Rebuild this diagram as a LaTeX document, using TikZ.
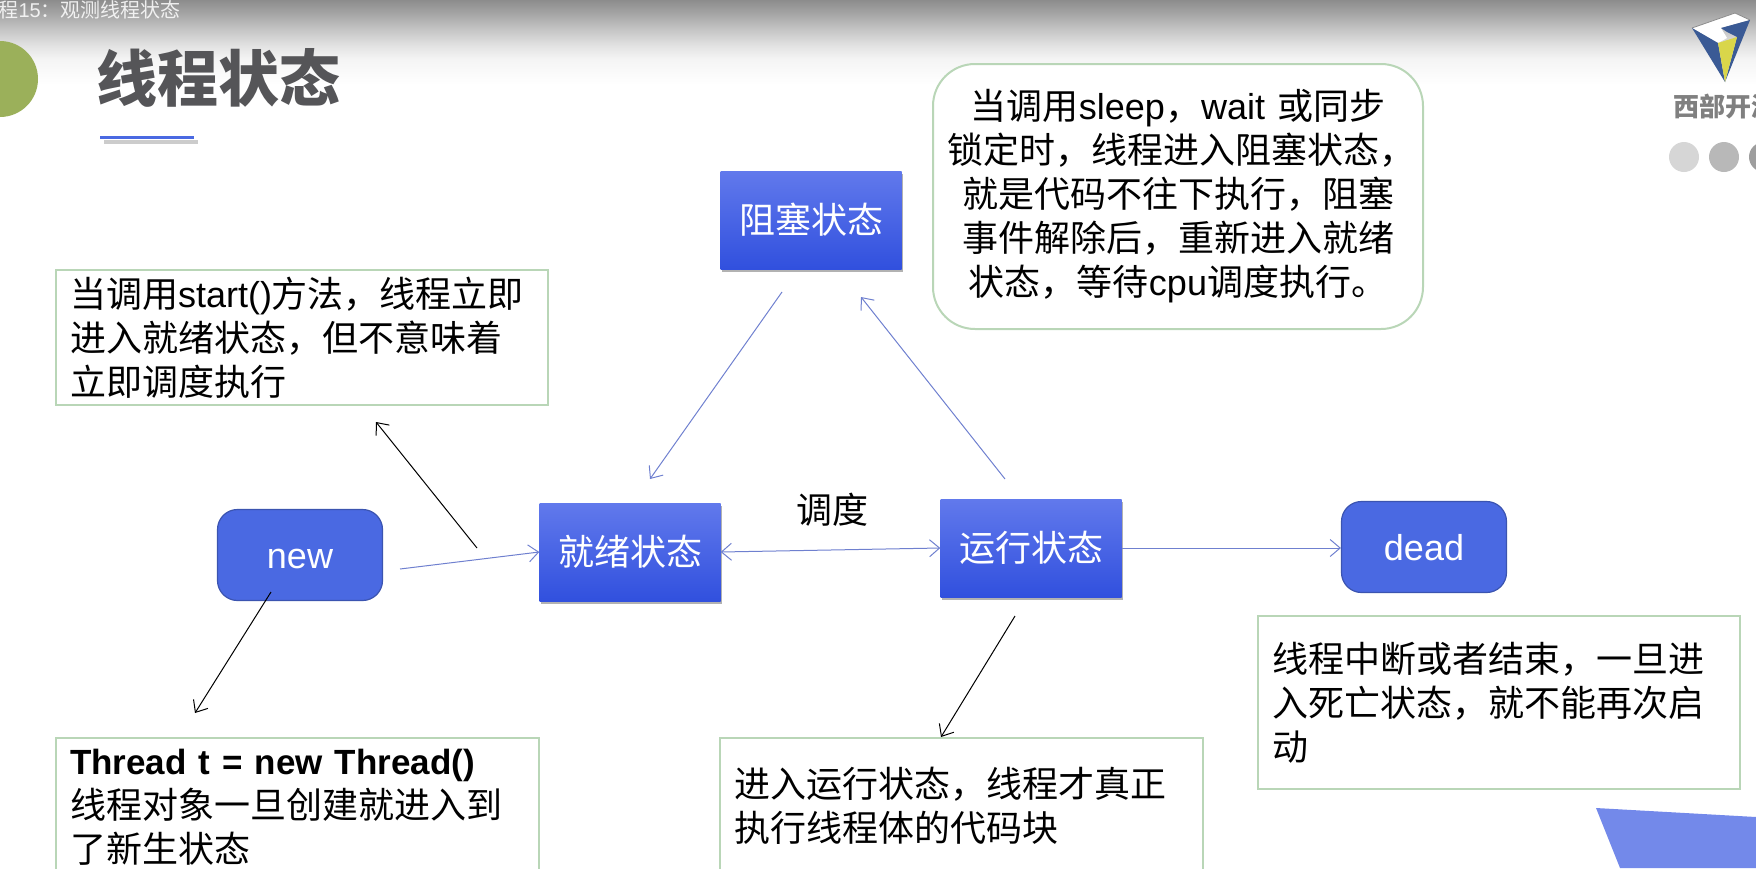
\documentclass[tikz,border=0pt]{standalone}
\usepackage{fontspec}
\setmainfont{Noto Sans CJK SC}
\newfontfamily\latinfont{Liberation Sans}
\newcommand{\lat}[1]{{\latinfont #1}}
\usetikzlibrary{positioning,arrows.meta,shadows}
\definecolor{boxblue}{HTML}{4A69E2}
\definecolor{boxtop}{HTML}{6179EC}
\definecolor{boxlow}{HTML}{3150DE}
\definecolor{boxedge}{HTML}{3B54B0}
\definecolor{notegreen}{HTML}{B9D6B7}
\definecolor{linkblue}{HTML}{6F80CF}
\definecolor{textgray}{HTML}{555558}
\definecolor{ballgreen}{HTML}{9BB05A}
\definecolor{cornerblue}{HTML}{7389EA}
\definecolor{logoblue}{HTML}{3A5A95}
\definecolor{logoyellow}{HTML}{D9D64A}
\pgfdeclareverticalshading{barfade}{100bp}{color(0bp)=(white); color(25bp)=(white); color(40bp)=(black!4); color(48bp)=(black!11); color(57bp)=(black!22); color(66bp)=(black!34); color(75bp)=(black!45); color(100bp)=(black!45)}
\begin{document}
\begin{tikzpicture}[x=1pt,y=-1pt,
  statebox/.style={minimum width=181pt,minimum height=98pt,inner sep=0pt,top color=boxtop,bottom color=boxlow,text=white,font=\fontsize{36}{44}\selectfont,drop shadow={shadow xshift=1pt,shadow yshift=-3pt,fill=black,opacity=0.3}},
  roundbox/.style={draw=boxedge,line width=1.2pt,fill=boxblue,rounded corners=20pt,minimum width=165pt,minimum height=91pt,inner sep=0pt,text=white,text height=26pt,text depth=0pt,font=\latinfont\fontsize{36}{44}\selectfont},
  notebox/.style={draw=notegreen,line width=2pt,fill=white,anchor=north west,inner xsep=14pt,inner ysep=0pt,align=left,font=\fontsize{36}{44}\selectfont},
  link/.style={draw=linkblue,line width=1pt,-{Straight Barb[length=10pt,width=17pt]}},
  pointer/.style={draw=black,line width=1pt,-{Straight Barb[length=10pt,width=17pt]}}
]
\useasboundingbox (0,0) rectangle (1756,868);
\shade[shading=barfade] (0,0) rectangle (1756,85);
\node[anchor=west,text=white,font=\fontsize{20}{24}\selectfont,opacity=0.85] (bartext) at (-5,10) {程\lat{15}：观测线程状态};
\fill[ballgreen] (0,79) circle (38);
\node[text=textgray,font=\bfseries\fontsize{61}{70}\selectfont] (title) at (218,78) {线程状态};
\fill[black!20] (104,140) rectangle (198,144);
\fill[boxblue] (100,136) rectangle (194,139);

\fill[white] (1692,28) -- (1735,13) -- (1750,20) -- (1721,28) -- (1727,38) -- (1718,43) -- cycle;
\draw[black!45,line width=0.8pt] (1692,28) -- (1735,13) -- (1750,20);
\fill[logoblue] (1692,28) -- (1718,43) -- (1725,82) -- cycle;
\fill[logoblue] (1721,28) -- (1750,20) -- (1725,82) -- (1737,37) -- (1727,32) -- cycle;
\fill[logoyellow] (1718,43) -- (1737,37) -- (1725,82) -- cycle;
\node[anchor=west,inner sep=0pt,text=black!50,font=\bfseries\fontsize{26}{30}\selectfont] (logotext) at (1673,107) {西部开源};
\fill[black!16] (1684,157) circle (15);
\fill[black!28] (1724,157) circle (15);
\fill[black!38] (1764,157) circle (15);
\fill[cornerblue] (1596,808) -- (1756,817) -- (1756,868) -- (1620,868) -- cycle;

\node[statebox] (blocked) at (811,220) {阻塞状态};
\node[statebox] (ready) at (630,552) {就绪状态};
\node[statebox] (running) at (1031,548) {运行状态};
\node[roundbox] (newstate) at (300,555) {new};
\node[roundbox] (dead) at (1424,547) {dead};
\node[font=\fontsize{36}{44}\selectfont] (sched) at (832,510) {调度};

\node[notebox,text width=464pt,minimum height=135pt] (startnote) at (55,269) {当调用\lat{start()}方法，线程立即\\进入就绪状态，但不意味着\\立即调度执行};
\node[notebox,text width=455pt,minimum height=138pt] (threadnote) at (55,737) {\lat{\bfseries\fontsize{35}{44}\selectfont Thread t = new Thread()}\\线程对象一旦创建就进入到\\了新生状态};
\node[notebox,text width=455pt,minimum height=136pt] (runnote) at (719,737) {进入运行状态，线程才真正\\执行线程体的代码块};
\node[notebox,text width=454pt,minimum height=173pt] (deadnote) at (1257,615) {线程中断或者结束，一旦进\\入死亡状态，就不能再次启\\动};
\node[notebox,text width=462pt,minimum height=265pt,rounded corners=42pt,align=center] (blocknote) at (932,63) {当调用\lat{sleep}，\lat{wait} 或同步\\锁定时，线程进入阻塞状态，\\就是代码不往下执行，阻塞\\事件解除后，重新进入就绪\\状态，等待\lat{cpu}调度执行。};

\coordinate (newout) at (400,569);
\coordinate (blockedout) at (782,292);
\coordinate (readyin) at (650,479);
\coordinate (runout) at (1005,479);
\coordinate (blockedin) at (861,297);
\coordinate (startfrom) at (477,548);
\coordinate (startto) at (376,422);
\coordinate (newfrom) at (271,592);
\coordinate (newto) at (195,713);
\coordinate (runfrom) at (1015,616);
\coordinate (runto) at (941,737);

\draw[link] (newout) -- (ready.west);
\draw[link,{Straight Barb[length=10pt,width=17pt]}-{Straight Barb[length=10pt,width=17pt]}] (ready.east) -- (running.west);
\draw[link] (running.east) -- (running.east -| dead.west);
\draw[link] (runout) -- (blockedin);
\draw[link] (blockedout) -- (readyin);
\draw[pointer] (startfrom) -- (startto);
\draw[pointer] (newfrom) -- (newto);
\draw[pointer] (runfrom) -- (runto);
\end{tikzpicture}
\end{document}
